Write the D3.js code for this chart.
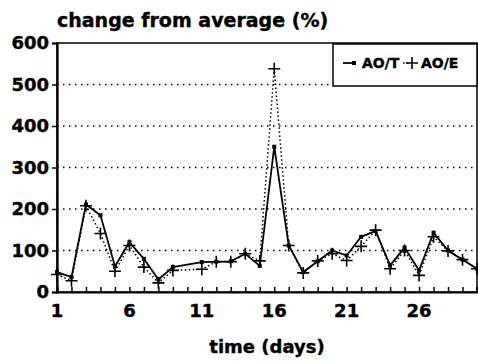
<!DOCTYPE html>
<html>
  <head>
    <style>
      body {
        margin: 0;
        background: #fff;
        font-family: "DejaVu Sans", sans-serif;
        font-weight: bold;
      }
      text {
        stroke: #000;
        stroke-width: 0.4px;
      }
      .grid line {
        stroke: #000;
        stroke-width: 1.5px;
        stroke-dasharray: 1.5,4.5;
      }
      .aot-line {
        fill: none;
        stroke: #000;
        stroke-width: 1.8px;
      }
      .aoe-line {
        fill: none;
        stroke: #000;
        stroke-width: 1.5px;
        stroke-dasharray: 1.5,2.5;
      }
    </style>
  </head>
  <body>
    <script src="https://d3js.org/d3.v7.min.js"></script>
    <script>
      // day 10 has no reading
      var days = [1, 2, 3, 4, 5, 6, 7, 8, 9, 11, 12, 13, 14, 15, 16, 17, 18, 19, 20, 21, 22, 23, 24, 25, 26, 27, 28, 29, 30];
      var aoT = [48, 36, 211, 185, 62, 120, 80, 30, 60, 72, 73, 74, 92, 63, 350, 112, 48, 74, 100, 88, 133, 147, 64, 107, 52, 143, 100, 78, 56];
      var aoE = [42, 27, 208, 141, 50, 112, 60, 22, 52, 55, 73, 73, 92, 75, 538, 112, 46, 75, 92, 76, 110, 149, 56, 100, 40, 133, 99, 78, 56];
      var xTicks = [1, 6, 11, 16, 21, 26];
      var yTicks = [0, 100, 200, 300, 400, 500, 600];

      var margin = {top: 43, right: 1, bottom: 70, left: 57},
        width = 478 - margin.left - margin.right,
        height = 362 - margin.top - margin.bottom;

      var svg = d3.select("body").append("svg")
        .attr("width", 478)
        .attr("height", 362)
        .append("g")
        .attr("transform", "translate(" + margin.left + "," + margin.top + ")");

      var x = d3.scaleLinear().domain([1, 30]).range([0, width]);
      var y = d3.scaleLinear().domain([0, 600]).range([height, 0]);

      // dotted grid
      svg.append("g")
        .attr("class", "grid")
        .selectAll("line")
        .data(yTicks.filter(d => d > 0 && d < 600))
        .enter().append("line")
          .attr("x1", 0)
          .attr("x2", width)
          .attr("y1", d => y(d))
          .attr("y2", d => y(d));

      // frame
      svg.append("rect")
        .attr("width", width)
        .attr("height", height)
        .attr("fill", "none")
        .attr("stroke", "#000")
        .attr("stroke-width", 1.5);

      // left axis
      var yAxis = svg.append("g")
        .call(d3.axisLeft(y).tickValues(yTicks).tickSize(5).tickPadding(3));
      yAxis.select(".domain").attr("stroke-width", 2.2);
      yAxis.selectAll(".tick line").attr("stroke-width", 1.5);
      yAxis.selectAll("text")
        .attr("font-family", "DejaVu Sans")
        .attr("font-weight", "bold")
        .attr("font-size", "18px")
        .attr("fill", "#000");

      // bottom axis, minor ticks every day pointing inward
      var xAxis = svg.append("g")
        .attr("transform", "translate(0," + height + ")")
        .call(d3.axisBottom(x).tickValues(d3.range(1, 31)).tickSize(-5).tickFormat(""));
      xAxis.select(".domain").attr("stroke-width", 2.2);
      xAxis.selectAll(".tick line").attr("stroke-width", 1.5);

      svg.append("g")
        .selectAll("text")
        .data(xTicks)
        .enter().append("text")
          .attr("x", d => x(d))
          .attr("y", height + 25)
          .attr("text-anchor", "middle")
          .attr("font-size", "18px")
          .text(d => d);

      var pts = days.map((d, i) => ({day: d, t: aoT[i], e: aoE[i]}));

      svg.append("path")
        .datum(pts)
        .attr("class", "aoe-line")
        .attr("d", d3.line().x(d => x(d.day)).y(d => y(d.e)));

      svg.append("path")
        .datum(pts)
        .attr("class", "aot-line")
        .attr("d", d3.line().x(d => x(d.day)).y(d => y(d.t)));

      // AO/T markers
      svg.selectAll(".mk-t")
        .data(pts)
        .enter().append("rect")
          .attr("class", "mk-t")
          .attr("x", d => x(d.day) - 2)
          .attr("y", d => y(d.t) - 2)
          .attr("width", 4)
          .attr("height", 4)
          .attr("fill", "#000");

      // AO/E markers
      svg.selectAll(".mk-e")
        .data(pts)
        .enter().append("path")
          .attr("class", "mk-e")
          .attr("transform", d => "translate(" + x(d.day) + "," + y(d.e) + ")")
          .attr("d", "M-6,0H6M0,-6V6")
          .attr("stroke", "#000")
          .attr("stroke-width", 1.6)
          .attr("fill", "none");

      // titles
      svg.append("text")
        .attr("x", 0)
        .attr("y", -16)
        .attr("font-size", "19px")
        .text("change from average (%)");

      svg.append("text")
        .attr("x", width / 2)
        .attr("y", height + 61)
        .attr("text-anchor", "middle")
        .attr("font-size", "18px")
        .text("time (days)");

      // legend
      var lg = svg.append("g").attr("transform", "translate(" + (width - 144) + ",1)");
      lg.append("rect")
        .attr("width", 144)
        .attr("height", 42)
        .attr("fill", "#fff")
        .attr("stroke", "#000")
        .attr("stroke-width", 1.5);
      lg.append("line")
        .attr("x1", 10).attr("x2", 22).attr("y1", 19).attr("y2", 19)
        .attr("stroke", "#000").attr("stroke-width", 1.8);
      lg.append("rect")
        .attr("x", 19).attr("y", 17).attr("width", 4).attr("height", 4)
        .attr("fill", "#000");
      lg.append("text")
        .attr("x", 29).attr("y", 24)
        .attr("font-size", "14px")
        .text("AO/T");
      lg.append("line")
        .attr("x1", 70).attr("x2", 76).attr("y1", 19).attr("y2", 19)
        .attr("class", "aoe-line");
      lg.append("path")
        .attr("transform", "translate(79,19)")
        .attr("d", "M-6,0H6M0,-6V6")
        .attr("stroke", "#000")
        .attr("stroke-width", 1.6);
      lg.append("text")
        .attr("x", 88).attr("y", 24)
        .attr("font-size", "14px")
        .text("AO/E");
    </script>
  </body>
</html>
